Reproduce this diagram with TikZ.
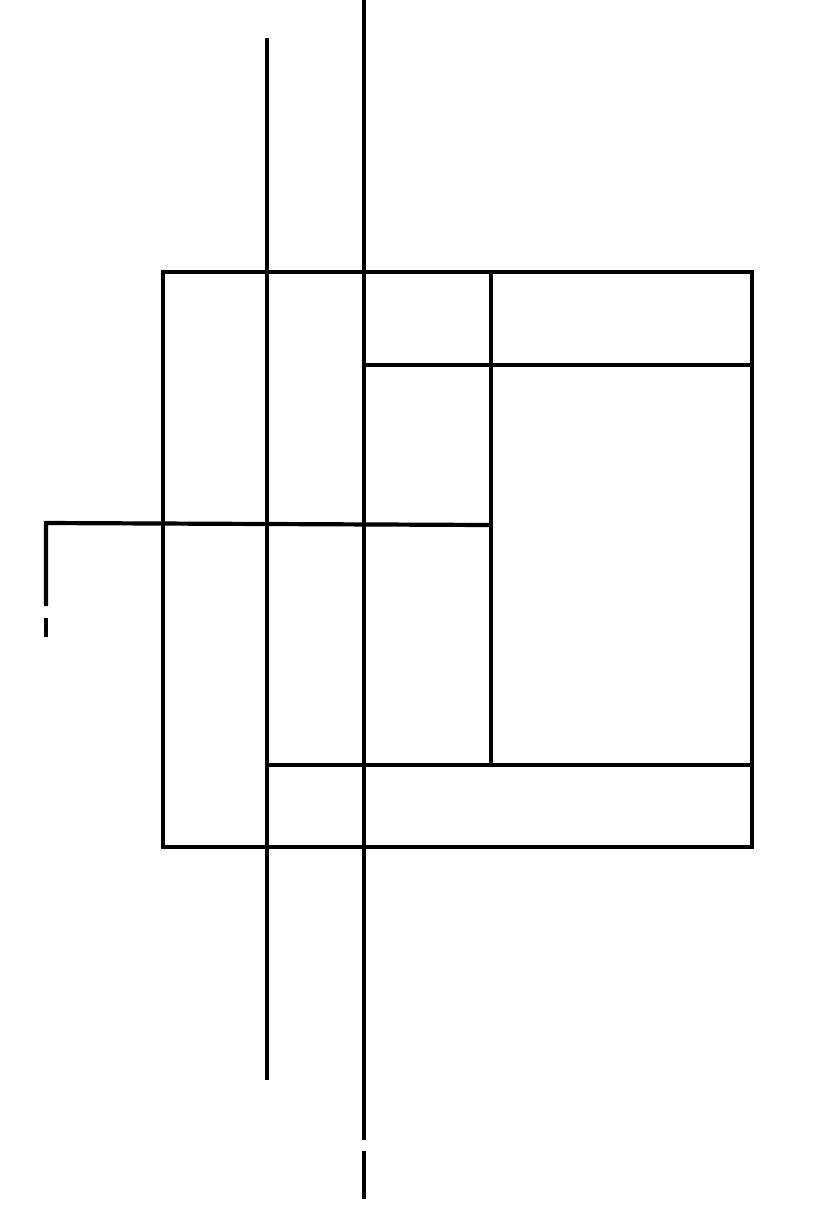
\documentclass[tikz,border=0pt]{standalone}
\begin{document}
\begin{tikzpicture}[x=1pt,y=-1pt,ln/.style={line width=4.2pt,black},thin ln/.style={line width=3.2pt,black}]
\useasboundingbox (0,0) rectangle (832,1216);
% outer frame
\draw[ln] (163,272) rectangle (752,847);
% interior lines
\draw[ln] (491,272) -- (491,765);
\draw[ln] (364,365) -- (752,365);
\draw[ln] (267,765) -- (752,765);
% L-shaped line on the left
\coordinate (l0) at (489,525);
\coordinate (l1) at (46,523);
\coordinate (l2) at (46,606);
\draw[ln] (l0) -- (l1) -- (l2);
\draw[thin ln] (46,618) -- (46,637);
% long verticals
\draw[ln] (267,38) -- (267,1080);
\draw[ln] (364,0) -- (364,1140);
\draw[thin ln] (364,1151) -- (364,1199);
\end{tikzpicture}
\end{document}
